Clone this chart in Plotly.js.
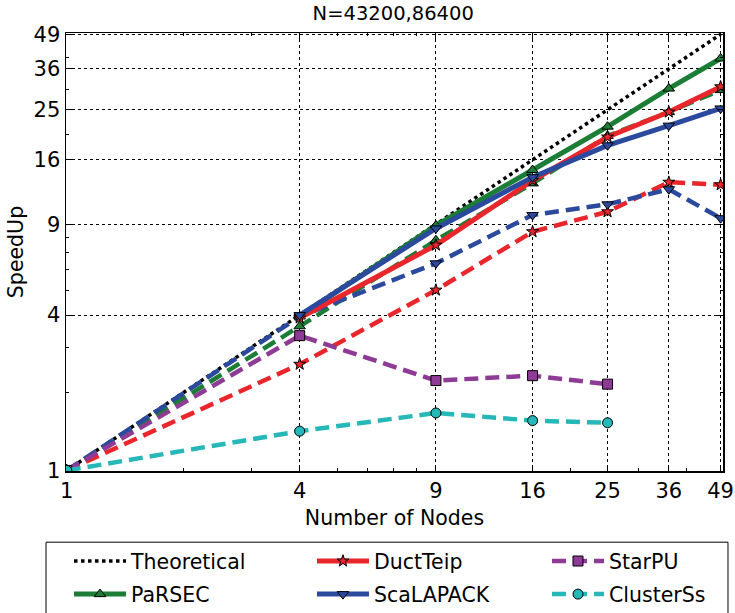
<!DOCTYPE html>
<html>
<head>
<meta charset="utf-8">
<script src="https://cdn.plot.ly/plotly-3.0.1.min.js"></script>
<style>html,body{margin:0;padding:0;background:#fff;}#chart{width:735px;height:613px;}</style>
</head>
<body>
<div id="chart"></div>
<script>
// Data
const nodes = [1, 4, 9, 16, 25, 36, 49];
const nodesLarge = [4, 9, 16, 25, 36, 49];
const nodesSmall = [1, 4, 9, 16, 25];
const theoretical = [1, 4, 9, 16, 25, 36, 49];
// N=86400 (solid)
const parsecLarge = [3.95, 8.9, 14.6, 21.5, 30.2, 39.5];
const ductteipLarge = [3.9, 7.47, 13.3, 19.6, 24.5, 30.7];
const scalapackLarge = [4.0, 8.67, 13.7, 18.2, 21.7, 25.3];
// N=43200 (dashed)
const parsecSmall = [1, 3.62, 7.8, 12.96, 19.8, 24.5, 29.8];
const ductteipSmall = [1, 2.58, 5.0, 8.42, 10.06, 13.1, 12.8];
const scalapackSmall = [1, 3.95, 6.35, 9.77, 10.75, 12.3, 9.5];
const starpu = [1, 3.33, 2.23, 2.33, 2.16];
const clusterss = [1, 1.42, 1.67, 1.56, 1.53];
const tickVals = [1, 4, 9, 16, 25, 36, 49];
const tickText = ['1', '4', '9', '16', '25', '36', '49'];
const minorVals = [2, 3, 5, 6, 7, 8, 20, 30, 40];

const GREEN = '#1b7d36', RED = '#e8262b', BLUE = '#2b4a9d', PURPLE = '#8e3b96', CYAN = '#26b8b8';
const DASH = '14px,7px';
const mk = (sym, col, s) => ({symbol: sym, size: s || 10, color: col, line: {color: '#000', width: 1}});

const traces = [
  {name: 'Theoretical', x: nodes, y: theoretical, mode: 'lines', line: {color: '#000', width: 3.5, dash: 'dot'}, legend: 'legend'},
  {name: 'DuctTeip', x: nodes, y: ductteipSmall, mode: 'lines+markers', line: {color: RED, width: 4.5, dash: DASH}, marker: mk('star', RED, 9), showlegend: false},
  {name: 'PaRSEC', x: nodes, y: parsecSmall, mode: 'lines+markers', line: {color: GREEN, width: 4.5, dash: DASH}, marker: mk('triangle-up', GREEN), showlegend: false},
  {name: 'ScaLAPACK', x: nodes, y: scalapackSmall, mode: 'lines+markers', line: {color: BLUE, width: 4.5, dash: DASH}, marker: mk('triangle-down', BLUE), showlegend: false},
  {name: 'StarPU', x: nodesSmall, y: starpu, mode: 'lines+markers', line: {color: PURPLE, width: 4.5, dash: DASH}, marker: mk('square', PURPLE), legend: 'legend3'},
  {name: 'ClusterSs', x: nodesSmall, y: clusterss, mode: 'lines+markers', line: {color: CYAN, width: 4.5, dash: DASH}, marker: mk('circle', CYAN), legend: 'legend6'},
  {name: 'PaRSEC', x: nodesLarge, y: parsecLarge, mode: 'lines+markers', line: {color: GREEN, width: 5}, marker: mk('triangle-up', GREEN), legend: 'legend4'},
  {name: 'DuctTeip', x: nodesLarge, y: ductteipLarge, mode: 'lines+markers', line: {color: RED, width: 5}, marker: mk('star', RED, 9), legend: 'legend2'},
  {name: 'ScaLAPACK', x: nodesLarge, y: scalapackLarge, mode: 'lines+markers', line: {color: BLUE, width: 5}, marker: mk('triangle-down', BLUE), legend: 'legend5'}
];

const axisCommon = {
  type: 'log', tickmode: 'array', tickvals: tickVals, ticktext: tickText,
  showline: true, mirror: 'ticks', linecolor: '#000', linewidth: 1.5,
  ticks: 'inside', ticklen: 6, tickcolor: '#000',
  showgrid: true, gridcolor: '#000', griddash: 'dot', gridwidth: 1,
  zeroline: false, tickfont: {size: 21, color: '#000'},
  minor: {tickmode: 'array', tickvals: minorVals, ticks: 'inside', ticklen: 3, tickcolor: '#000', showgrid: false}
};

const legendBase = (x, y) => ({orientation: 'h', x: x, xanchor: 'left', y: y, yanchor: 'middle',
  borderwidth: 0, bgcolor: 'rgba(0,0,0,0)', font: {size: 20.5, color: '#000'}, itemwidth: 52});
const col = [0.0046, 0.3744, 0.7321];
const row = [-0.2059, -0.2815];

const layout = {
  width: 735, height: 613,
  margin: {l: 66, r: 12, t: 33, b: 142, autoexpand: false},
  paper_bgcolor: '#fff', plot_bgcolor: '#fff',
  font: {family: 'DejaVu Sans', color: '#000'},
  title: {text: 'N=43200,86400', font: {size: 19.5}, x: 0.535, xanchor: 'center', y: 0.99, yanchor: 'top'},
  xaxis: Object.assign({}, axisCommon, {range: [-0.002, Math.log10(49.7)], title: {text: 'Number of Nodes', font: {size: 20.5}, standoff: 9}}),
  yaxis: Object.assign({}, axisCommon, {range: [Math.log10(0.995), Math.log10(49.6)], title: {text: 'SpeedUp', font: {size: 20.5}, standoff: 4}}),
  showlegend: true,
  legend: legendBase(col[0], row[0]),
  legend2: legendBase(col[1], row[0]),
  legend3: legendBase(col[2], row[0]),
  legend4: legendBase(col[0], row[1]),
  legend5: legendBase(col[1], row[1]),
  legend6: legendBase(col[2], row[1]),
  shapes: [{type: 'rect', xref: 'paper', yref: 'paper', x0: -0.0304, x1: 1.0076, y0: -0.1625, y1: -0.36,
    line: {color: '#000', width: 1}, fillcolor: '#fff', layer: 'above'}]
};

Plotly.newPlot('chart', traces, layout, {staticPlot: true});
</script>
</body>
</html>
